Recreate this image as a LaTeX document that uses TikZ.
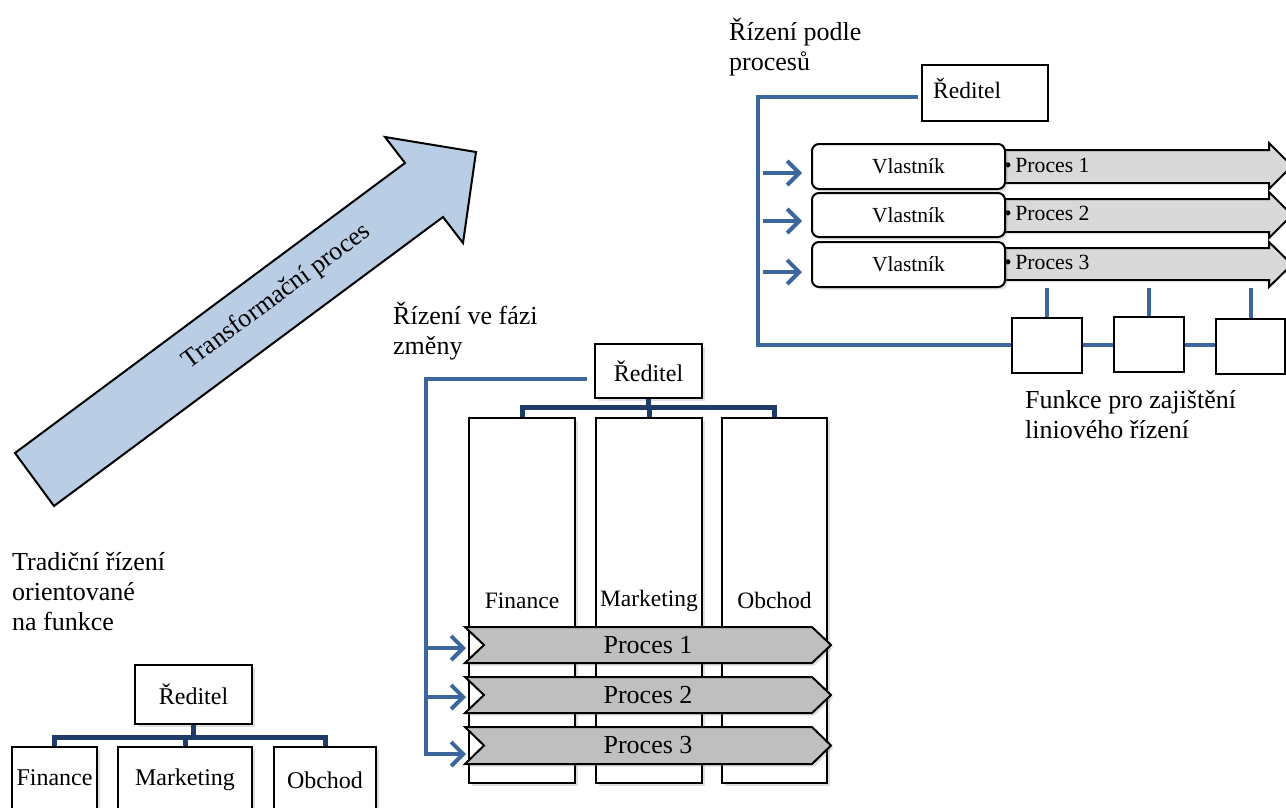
\documentclass[tikz,border=0pt]{standalone}
\usepackage{fontspec}
\setmainfont{Liberation Serif}
\usetikzlibrary{arrows.meta,shadows,calc}
\definecolor{navyline}{HTML}{1F3B68}
\definecolor{blueline}{HTML}{3C679C}
\definecolor{procgray}{HTML}{BFBFBF}
\definecolor{ownergray}{HTML}{D9D9D9}
\definecolor{arrowblue}{HTML}{B9CDE5}
\newcommand\fsz[1]{\fontsize{#1}{30}\selectfont}

\begin{document}
\begin{tikzpicture}[x=1pt,y=-1pt,
  box/.style={draw=black, line width=2pt, fill=white, inner sep=0pt},
  shbox/.style={box, drop shadow={shadow xshift=2.5pt, shadow yshift=-2.5pt, opacity=0.25}},
  ownerbox/.style={shbox, rounded corners=7pt},
  orgline/.style={draw=navyline, line width=5pt},
  flowline/.style={draw=blueline, line width=4pt},
  flowarrow/.style={flowline, -{Straight Barb[length=12pt,width=24pt]}},
  chev/.style={draw=black, line width=2pt, fill=procgray,
    drop shadow={shadow xshift=2.5pt, shadow yshift=-2.5pt, opacity=0.25}},
  lane/.style={draw=black, line width=2pt, fill=ownergray},
  txt/.style={inner sep=0pt},
  title/.style={txt, font=\fsz{26}, align=left, anchor=north west},
]
\useasboundingbox (0,0) rectangle (1286,807);
\clip (0,0) rectangle (1286,807);

% ---------- transformation arrow ----------
\draw[line width=2pt, fill=arrowblue, line join=miter]
  (15,453) -- (405,163) -- (385,137) -- (476,152) -- (463,243) -- (443,217) -- (54,506) -- cycle;
\node[txt, font=\fsz{26}, rotate=36.6] (transf) at (277,297) {Transformační proces};

% ---------- traditional, function-oriented management ----------
\node[title] (t1) at (12,552) {Tradiční řízení\\orientované\\na funkce};
\node[shbox, minimum width=117, minimum height=59, font=\fsz{24}] (r1) at (193.5,694.5) {Ředitel};
\node[shbox, minimum width=85,  minimum height=83] (bfin) at (54.5,788.5) {};
\node[shbox, minimum width=134, minimum height=83] (bmkt) at (185,788.5) {};
\node[shbox, minimum width=102, minimum height=83] (bobc) at (325,788.5) {};
\node[txt, font=\fsz{24}, anchor=base] (bfinT) at (54.5,785) {Finance};
\node[txt, font=\fsz{24}, anchor=base] (bmktT) at (185,785) {Marketing};
\node[txt, font=\fsz{24}, anchor=base] (bobcT) at (325,788) {Obchod};
\coordinate (j1) at (193.5,737);
\draw[orgline] (r1.south) -- (j1);
\draw[orgline] (bfin.north) |- (j1) -| (bobc.north);
\draw[orgline] (bmkt.north) -- (bmkt.north |- j1);

% ---------- management during the change ----------
\node[title] (t2) at (393,302) {Řízení ve fázi\\změny};
\node[shbox, minimum width=107, minimum height=54, font=\fsz{24}] (r2) at (648.5,371) {Ředitel};
\node[shbox, minimum width=106, minimum height=365, font=\fsz{23.5}] (mf) at (522,600.5) {Finance};
\node[shbox, minimum width=106, minimum height=365, font=\fsz{23.5}] (mm) at (649,600.5) {Marketing};
\node[shbox, minimum width=105, minimum height=365, font=\fsz{23.5}] (mo) at (774.5,600.5) {Obchod};
\coordinate (j2) at (648.5,407);
\draw[orgline] (r2.south) -- (j2);
\draw[orgline] (mf.north) |- (j2) -| (mo.north);
\draw[orgline] (mm.north) -- (mm.north |- j2);

% process chevrons across the departments
\path[chev] (465,627) -- (812,627) -- (831,645) -- (812,663) -- (465,663) -- (484,645) -- cycle;
\node[txt, font=\fsz{26}] (p1) at (648,645) {Proces 1};
\path[chev] (465,677) -- (812,677) -- (831,695) -- (812,713) -- (465,713) -- (484,695) -- cycle;
\node[txt, font=\fsz{26}] (p2) at (648,695) {Proces 2};
\path[chev] (465,727) -- (812,727) -- (831,745.5) -- (812,764) -- (465,764) -- (484,745.5) -- cycle;
\node[txt, font=\fsz{26}] (p3) at (648,745.5) {Proces 3};

\coordinate (m1) at (466,648);
\coordinate (m2) at (466,697);
\coordinate (m3) at (466,754);
\coordinate (mspine) at (426,379);
\draw[flowline] ($(r2.west)+(-7,8)$) -- (mspine) -- (mspine |- m3);
\draw[flowarrow] (mspine |- m1) -- (m1);
\draw[flowarrow] ($(mspine |- m2)$) -- (m2);
\draw[flowarrow] ($(mspine |- m3)+(-2,0)$) -- (m3);

% ---------- process-based management ----------
\node[title] (t3) at (729,18) {Řízení podle\\procesů};
\node[box, minimum width=126, minimum height=56] (r3) at (985,93) {};
\node[txt, font=\fsz{23.5}, anchor=base west] (r3T) at (933,98) {Ředitel};

% process lanes
\path[lane] (1000,150) -- (1269,150) -- (1269,143) -- (1292,166) -- (1269,189) -- (1269,183) -- (1000,183) -- cycle;
\path[lane] (1000,199) -- (1269,199) -- (1269,192) -- (1292,215) -- (1269,238) -- (1269,232) -- (1000,232) -- cycle;
\path[lane] (1000,248) -- (1269,248) -- (1269,242) -- (1292,264.5) -- (1269,287) -- (1269,280) -- (1000,280) -- cycle;
\node[txt, font=\fsz{21.7}, anchor=base west] (l1) at (1004,172) {\textbullet\,Proces 1};
\node[txt, font=\fsz{21.7}, anchor=base west] (l2) at (1004,220) {\textbullet\,Proces 2};
\node[txt, font=\fsz{21.7}, anchor=base west] (l3) at (1004,269) {\textbullet\,Proces 3};

% process owners
\node[ownerbox, minimum width=193, minimum height=45, font=\fsz{21.5}] (v1) at (908.5,166.5) {Vlastník};
\node[ownerbox, minimum width=193, minimum height=44, font=\fsz{21.5}] (v2) at (908.5,215) {Vlastník};
\node[ownerbox, minimum width=193, minimum height=45, font=\fsz{21.5}] (v3) at (908.5,264.5) {Vlastník};

% line-management support functions
\node[box, minimum width=70, minimum height=55] (s1) at (1047,345.5) {};
\node[box, minimum width=70, minimum height=55] (s2) at (1149,344.5) {};
\node[box, minimum width=69, minimum height=55] (s3) at (1250.5,346.5) {};
\node[title, font=\fsz{26}] (t4) at (1025,390) {Funkce pro zajištění\\liniového řízení};

\coordinate (rspine) at (758,97);
\coordinate (hrow) at (758,345);
\draw[flowline] ($(r3.west)+(-3,4)$) -- (rspine) -- (hrow) -- (s1.west |- hrow);
\draw[flowline] (s1.east |- hrow) -- (s2.west |- hrow);
\draw[flowline] (s2.east |- hrow) -- (s3.west |- hrow);
\draw[flowline] (s1.north) -- ++(0,-29);
\draw[flowline] (s2.north) -- ++(0,-28);
\draw[flowline] (s3.north) -- ++(0,-30);

\draw[flowarrow] ($(v1.west)+(-48,6.5)$) -- ($(v1.west)+(-9,6.5)$);
\draw[flowarrow] ($(v2.west)+(-48,6)$) -- ($(v2.west)+(-9,6)$);
\draw[flowarrow] ($(v3.west)+(-48,7.5)$) -- ($(v3.west)+(-9,7.5)$);
\end{tikzpicture}
\end{document}
